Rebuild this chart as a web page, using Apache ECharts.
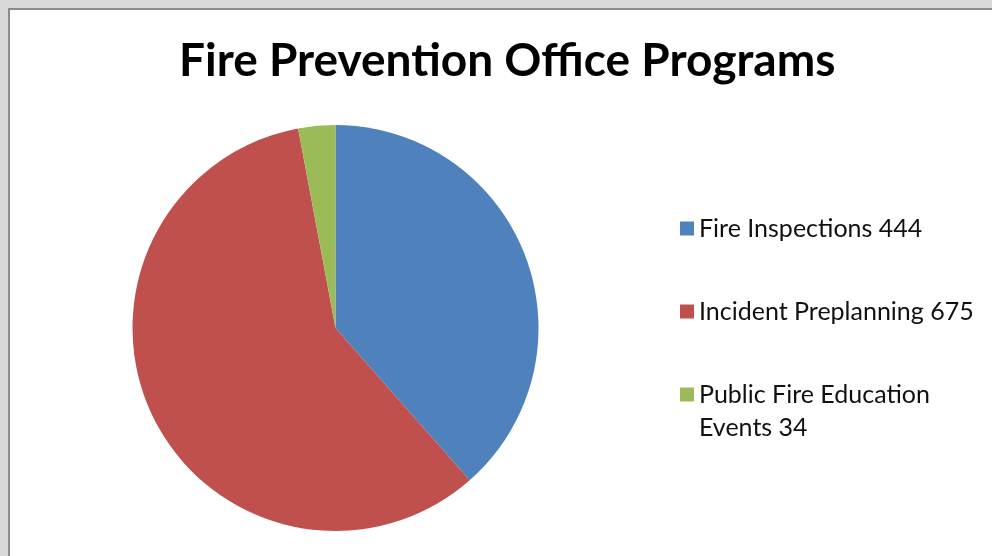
<!DOCTYPE html>
<html>
<head>
<meta charset="utf-8">
<script src="https://cdn.jsdelivr.net/npm/echarts@6/dist/echarts.min.js"></script>
<style>
html,body{margin:0;padding:0;background:#d9d9d9;}
#wrap{position:absolute;left:8px;top:8px;width:984px;height:548px;border-left:2px solid #8c8c8c;border-top:2px solid #8c8c8c;background:#fff;box-sizing:border-box;}
#chart{position:absolute;left:-10px;top:-10px;width:992px;height:556px;}
</style>
</head>
<body>
<div id="wrap"><div id="chart"></div></div>
<script>
const titleText = 'Fire Prevention Office Programs';
const categories = ['Fire Inspections', 'Incident Preplanning', 'Public Fire Education Events'];
const values = [444, 675, 34];
const colors = ['#4F81BD', '#C0504D', '#9BBB59'];

const chart = echarts.init(document.getElementById('chart'), null, {renderer: 'canvas'});
const fontFamily = 'Lato, "Open Sans", sans-serif';
const legendText = {
  fontFamily: fontFamily,
  fontSize: 25,
  color: '#111',
  lineHeight: 33,
  width: 290,
  overflow: 'break'
};
const fmt = function (name) {
  const i = categories.indexOf(name);
  return name + ' ' + values[i];
};
// leading empty line keeps the swatch level with the first wrapped line
const fmtWrapped = function (name) {
  return '\n' + fmt(name);
};
chart.setOption({
  animation: false,
  title: {
    text: titleText,
    left: 174,
    top: 33,
    textStyle: {fontFamily: fontFamily, fontWeight: 'bold', fontSize: 46, color: '#000'}
  },
  legend: [{
    orient: 'vertical',
    left: 675,
    top: 207,
    itemWidth: 14,
    itemHeight: 14,
    itemGap: 50,
    icon: 'rect',
    data: categories.slice(0, 2),
    formatter: fmt,
    textStyle: legendText,
    selectedMode: false
  }, {
    orient: 'vertical',
    left: 675,
    top: 340,
    itemWidth: 14,
    itemHeight: 14,
    icon: 'rect',
    data: categories.slice(2),
    formatter: fmtWrapped,
    textStyle: legendText,
    selectedMode: false
  }],
  series: [{
    type: 'pie',
    center: [335.5, 328],
    radius: 203,
    startAngle: 90,
    clockwise: true,
    label: {show: false},
    labelLine: {show: false},
    emphasis: {disabled: true},
    itemStyle: {borderWidth: 0},
    data: categories.map((c, i) => ({name: c, value: values[i], itemStyle: {color: colors[i]}}))
  }]
});
</script>
</body>
</html>
